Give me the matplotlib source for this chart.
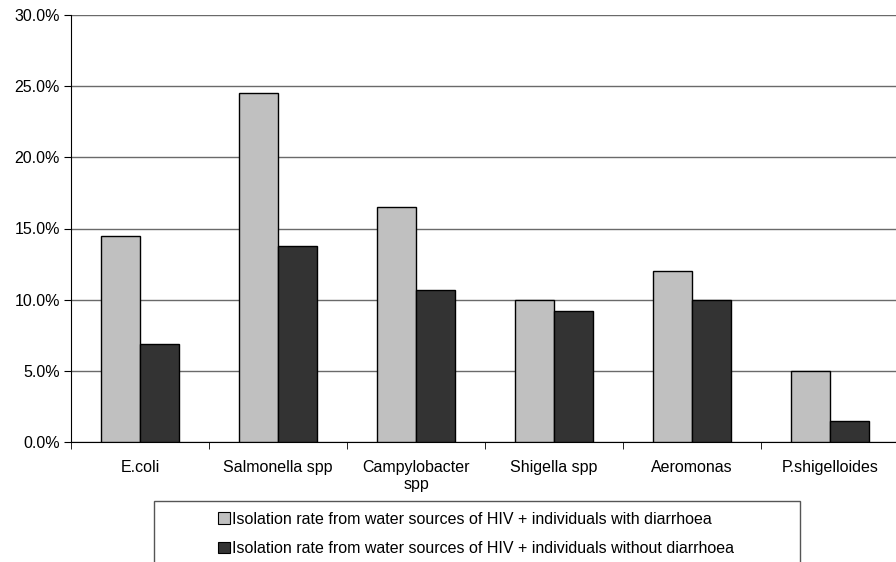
import numpy as np
import matplotlib.pyplot as plt
from matplotlib.patches import Patch, Rectangle
from matplotlib.ticker import FuncFormatter, MultipleLocator, FixedLocator

plt.rcParams['font.family'] = ['Liberation Sans', 'DejaVu Sans']

# Isolation rates (%) per organism
organisms = ["E.coli", "Salmonella spp", "Campylobacter\nspp", "Shigella spp",
             "Aeromonas", "P.shigelloides"]
with_diarrhoea = [14.5, 24.5, 16.5, 10.0, 12.0, 5.0]
without_diarrhoea = [6.9, 13.8, 10.7, 9.2, 10.0, 1.5]
series_names = ["Isolation rate from water sources of HIV + individuals with diarrhoea",
                "Isolation rate from water sources of HIV + individuals without diarrhoea"]

W, H = 896, 562
fs = 11.5
fig = plt.figure(figsize=(W / 100, H / 100), dpi=100)
ax = fig.add_axes([71 / W, 1 - 442 / H, 828 / W, 427 / H])

x = np.arange(len(organisms))
bw = 0.285
ax.bar(x - bw / 2, with_diarrhoea, bw, color="#C0C0C0", edgecolor="black", linewidth=1, zorder=3)
ax.bar(x + bw / 2, without_diarrhoea, bw, color="#333333", edgecolor="black", linewidth=1, zorder=3)

ax.set_xlim(-0.5, len(organisms) - 0.5)
ax.set_ylim(0, 30)
ax.yaxis.set_major_locator(MultipleLocator(5))
ax.yaxis.set_major_formatter(FuncFormatter(lambda v, p: "%.1f%%" % v))
ax.grid(axis="y", color="#6a6a6a", linewidth=1, zorder=0)

ax.set_xticks(x)
ax.set_xticklabels(organisms, fontsize=fs, linespacing=1.2)
ax.xaxis.set_minor_locator(FixedLocator(np.arange(-0.5, len(organisms), 1.0)))
ax.tick_params(axis="x", which="major", length=0, pad=13)
ax.tick_params(axis="x", which="minor", length=5, direction="out", color="black")
ax.tick_params(axis="y", length=5, direction="out", labelsize=fs, pad=3)

for side in ("top", "right"):
    ax.spines[side].set_visible(False)
ax.spines["left"].set_color("black")
ax.spines["bottom"].set_color("black")

# legend box running off the bottom edge
fig.patches.append(Rectangle((153.7 / W, -0.05), (800 - 153.7) / W, 0.05 + (H - 501) / H,
                             transform=fig.transFigure, fill=False,
                             edgecolor="#555555", linewidth=1))
handles = [Patch(facecolor="#C0C0C0", edgecolor="black", linewidth=0.8),
           Patch(facecolor="#333333", edgecolor="black", linewidth=0.8)]
fig.legend(handles, series_names, loc="upper left",
           bbox_to_anchor=(205 / W, 1 - 499 / H), frameon=False, fontsize=fs,
           handlelength=0.75, handleheight=0.75, handletextpad=0.15,
           labelspacing=0.9, borderpad=0.3)

fig.savefig("out.png", dpi=100)
